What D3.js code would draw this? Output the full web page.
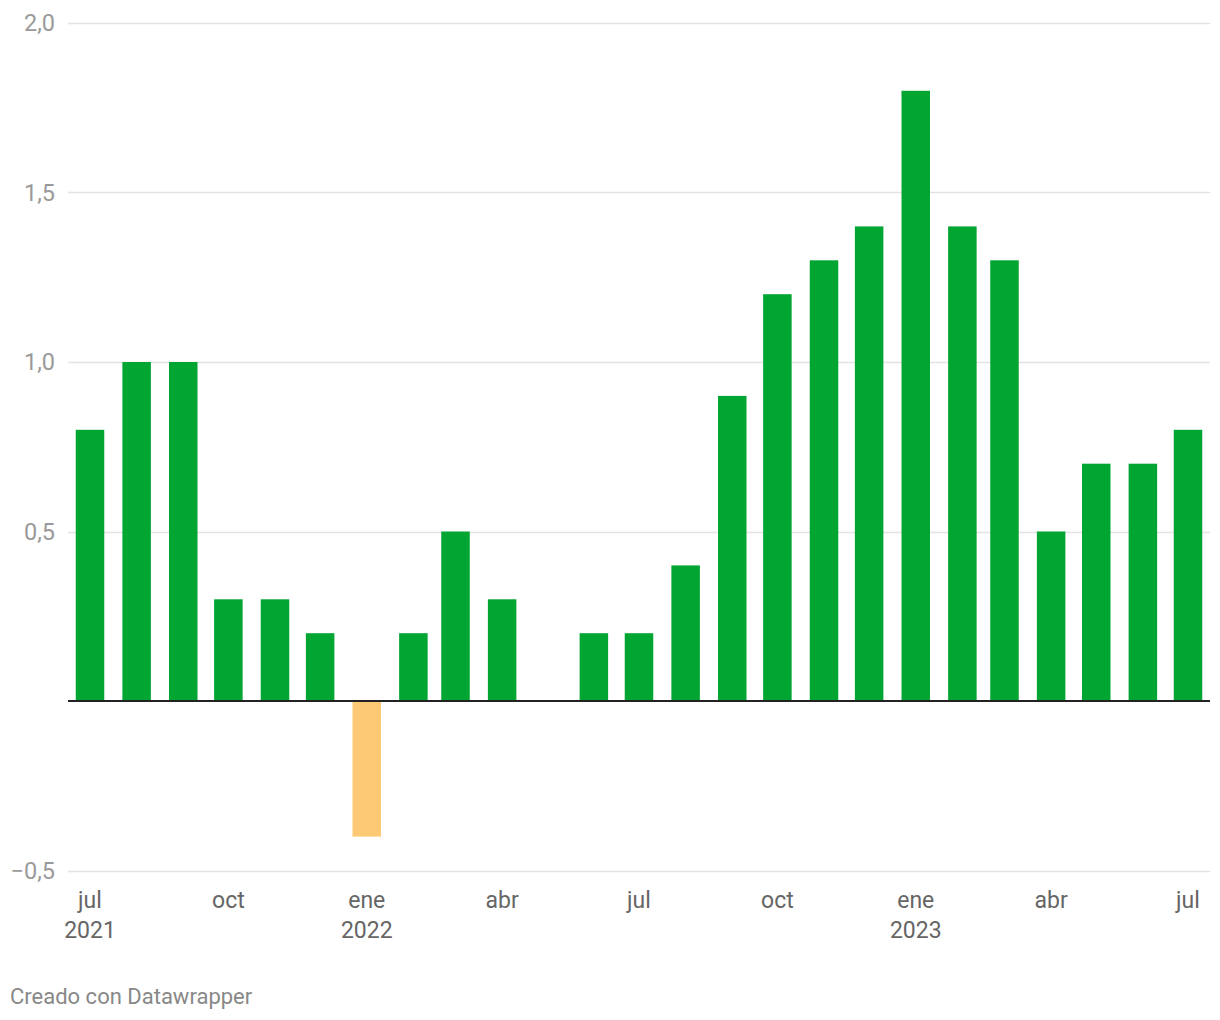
<!DOCTYPE html>
<html><head><meta charset="utf-8">
<script src="https://cdn.jsdelivr.net/npm/d3@7"></script>
<style>
body{margin:0;background:#fff;}
svg{display:block;font-family:Roboto,"Open Sans",sans-serif;}
</style></head>
<body><svg id="c" width="1220" height="1020"></svg>
<script>
const months = ["2021-07","2021-08","2021-09","2021-10","2021-11","2021-12","2022-01","2022-02","2022-03","2022-04","2022-05","2022-06","2022-07","2022-08","2022-09","2022-10","2022-11","2022-12","2023-01","2023-02","2023-03","2023-04","2023-05","2023-06","2023-07"];
const values = [0.8,1.0,1.0,0.3,0.3,0.2,-0.4,0.2,0.5,0.3,0,0.2,0.2,0.4,0.9,1.2,1.3,1.4,1.8,1.4,1.3,0.5,0.7,0.7,0.8];
const yTicks = [-0.5,0,0.5,1.0,1.5,2.0];
const xTicks = ["2021-07","2021-10","2022-01","2022-04","2022-07","2022-10","2023-01","2023-04","2023-07"];
const monthNames = ["ene","feb","mar","abr","may","jun","jul","ago","sep","oct","nov","dic"];
const footer = "Creado con Datawrapper";

const parse = d3.utcParse("%Y-%m");
const data = months.map((m,i)=>({date:parse(m), value:values[i]}));

const svg = d3.select("#c");
const x = d3.scaleUtc().domain([parse("2021-07"), parse("2023-07")]).range([90,1188]);
const y = d3.scaleLinear().domain([-0.5,2.0]).range([870.5,23]);
const fmt = v => d3.format(".1f")(v).replace(".",",").replace("-","\u2212");

// grid
const gy = svg.append("g");
yTicks.filter(t=>t!==0).forEach(t=>{
  gy.append("line").attr("x1",68).attr("x2",1210).attr("y1",Math.round(y(t))+0.5).attr("y2",Math.round(y(t))+0.5)
    .attr("stroke","#e3e3e3").attr("stroke-width",1.5);
  gy.append("text").attr("x",55).attr("y",y(t)).attr("dy","0.35em").attr("text-anchor","end")
    .attr("font-size",23.5).attr("fill","#9a9a9a").text(fmt(t));
});

// bars
const bw = 28.5;
svg.append("g").selectAll("rect").data(data.filter(d=>d.value!==0)).join("rect")
  .attr("x",d=>x(d.date)-bw/2).attr("width",bw)
  .attr("y",d=>y(Math.max(0,d.value))).attr("height",d=>Math.abs(y(d.value)-y(0)))
  .attr("fill",d=>d.value<0?"#fec974":"#00a532");

// zero line
svg.append("line").attr("x1",68).attr("x2",1210).attr("y1",y(0)).attr("y2",y(0))
  .attr("stroke","#222").attr("stroke-width",2);

// x ticks
const gx = svg.append("g");
xTicks.forEach(m=>{
  const d = parse(m);
  const mo = d.getUTCMonth();
  gx.append("text").attr("x",x(d)).attr("y",908).attr("text-anchor","middle")
    .attr("font-size",23).attr("fill","#666").text(monthNames[mo]);
  if (mo===0 || m===xTicks[0]) {
    gx.append("text").attr("x",x(d)).attr("y",938).attr("text-anchor","middle")
      .attr("font-size",23).attr("fill","#666").text(d.getUTCFullYear());
  }
});

svg.append("text").attr("x",10).attr("y",1004).attr("font-size",22).attr("fill","#888").text(footer);
</script></body></html>
